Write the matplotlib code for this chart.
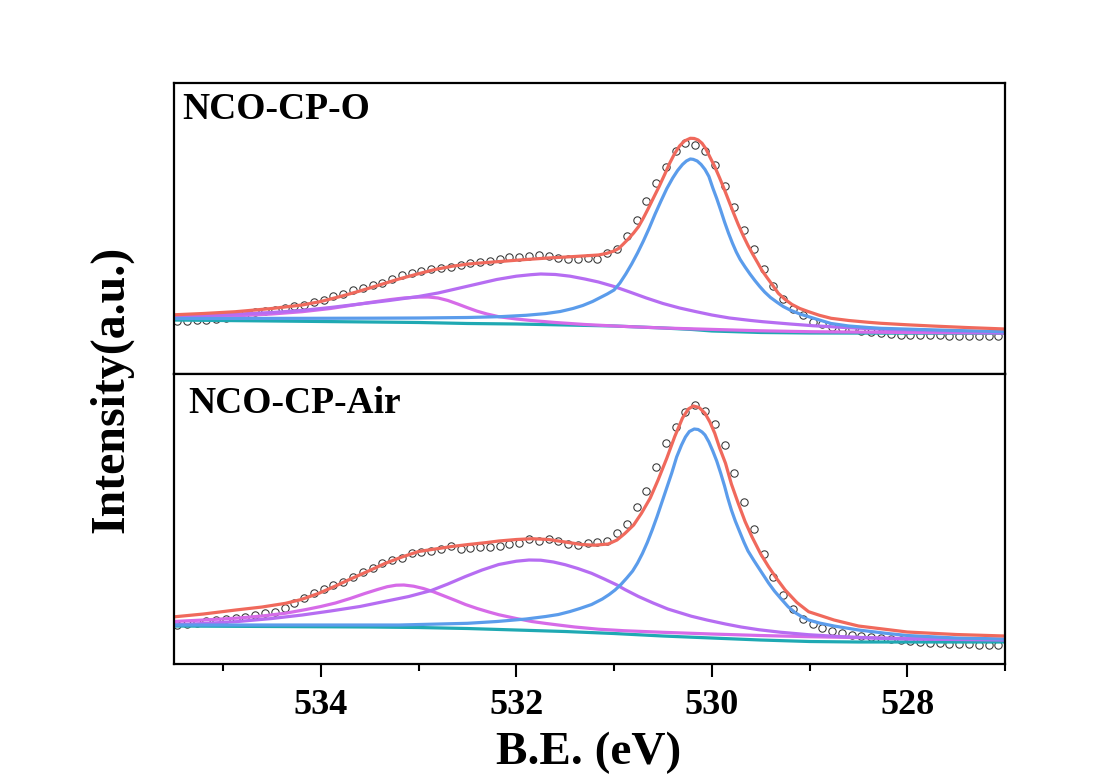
import numpy as np
import matplotlib.pyplot as plt
from matplotlib.ticker import MultipleLocator

plt.rcParams['font.family'] = ['Liberation Serif', 'DejaVu Serif']
plt.rcParams['font.weight'] = 'bold'

# ---------------- data (intensity in arbitrary units) ----------------
# measured points, 0.1 eV grid
be_grid = np.round(535.57 - 0.1 * np.arange(87), 2)

o_data = [52, 53, 53, 54, 54, 55, 56, 57, 60, 62,
          63, 64, 66, 67.5, 69, 71.5, 74, 77.5, 80, 83.5,
          86, 89, 91, 95, 98.5, 101, 103, 104.5, 105.5, 107,
          108.5, 110.7, 112.3, 113.3, 114.7, 116.7, 117.3, 118, 119, 118,
          115.7, 114.5, 114.5, 115.5, 114.7, 120.7, 124.7, 138.3, 154, 173,
          190.7, 207.3, 223.3, 230.7, 229, 223, 209, 188.3, 166.7, 144,
          124.7, 104.7, 88.3, 74.7, 64.7, 59, 52.3, 50, 46.7, 45.7,
          44.7, 43, 42, 41, 40, 39, 38.5, 38.5, 38.5, 38.5,
          38, 38, 38, 38, 38, 38, 38]

air_data = [38, 39, 40, 41, 43, 44.5, 45.5, 46, 47, 49,
            50.7, 52.3, 56, 61, 65.7, 70.7, 74.7, 79, 82.3, 87.3,
            92.3, 95.7, 100.7, 104, 106.5, 110.7, 112, 113, 115, 118,
            115, 115.7, 116.7, 117.3, 118, 120, 121.3, 124.7, 123.3, 124.7,
            123, 120.5, 119.5, 121, 122.3, 123.3, 131.3, 140, 156.7, 173.3,
            196.7, 220.7, 236.7, 252.3, 259, 253.3, 240, 219, 190.7, 162.3,
            134.7, 110, 86.7, 69, 54.7, 44.7, 40, 36, 33, 31,
            29.5, 28, 27, 26, 25, 24, 23, 22, 21.5, 21,
            20.5, 20, 20, 19.5, 19.5, 19, 19]

# ---- NCO-CP-O fitted curves ----
o_env_x = [535.55, 535.2, 534.87, 534.5, 534.19, 534.0, 533.8, 533.6, 533.4, 533.2,
           533.0, 532.83, 532.66, 532.49, 532.3, 532.1, 531.9, 531.67, 531.4, 531.16,
           531.08, 531.0, 530.95, 530.9, 530.85, 530.8, 530.75, 530.7, 530.65, 530.6,
           530.54, 530.48, 530.43, 530.38, 530.33, 530.28, 530.22, 530.18, 530.14, 530.10,
           530.06, 530.02, 529.97, 529.92, 529.87, 529.83, 529.78, 529.73, 529.68, 529.63,
           529.58, 529.53, 529.49, 529.44, 529.38, 529.32, 529.25, 529.18, 529.10, 529.01,
           528.9, 528.78, 528.6, 528.4, 528.27, 528.0, 527.75, 527.4, 527.0]
o_env_y = [59, 60.5, 62.3, 65.5, 69, 72.5, 77.5, 83, 89, 95,
           100.3, 104.5, 107.7, 110, 111.5, 113, 114.5, 116, 117.5, 119,
           120.5, 123, 125.7, 130.5, 135.5, 141, 147.3, 156, 165.5, 175.5,
           187.3, 200, 211, 220.5, 228, 233, 235.7, 235.5, 234, 230.7,
           225, 217, 207.3, 196, 184, 174, 161.5, 149.5, 138.5, 128.5,
           119.5, 111, 104, 97, 89, 80.7, 74.5, 69.5, 65.5, 62.3,
           58.7, 55.7, 53.5, 51.7, 50.7, 49.2, 48, 46.5, 45]

o_latt_x = [535.55, 534.5, 533.5, 533.0, 532.5, 532.17, 531.9, 531.7, 531.55, 531.42,
            531.32, 531.22, 531.14, 531.07, 531.0, 530.94, 530.88, 530.82, 530.76, 530.70,
            530.64, 530.58, 530.52, 530.46, 530.40, 530.35, 530.30, 530.26, 530.22, 530.19,
            530.15, 530.11, 530.07, 530.03, 529.99, 529.95, 529.91, 529.87, 529.83, 529.79,
            529.75, 529.71, 529.66, 529.61, 529.56, 529.51, 529.46, 529.40, 529.33, 529.27,
            529.20, 529.10, 529.01, 528.9, 528.78, 528.6, 528.4, 528.27, 527.9, 527.5,
            527.0]
o_latt_y = [55.5, 55.6, 55.8, 56.0, 56.5, 57.3, 58.7, 60.4, 62.5, 65.5,
            68.5, 72.5, 76.5, 80, 84, 91, 100, 110, 121, 133,
            146, 160, 173, 185.5, 196, 203.5, 209.5, 213, 215, 214.6,
            213, 209.5, 204.5, 197.5, 186, 175.5, 164, 152, 141, 131,
            122, 114.5, 107, 100, 93.5, 87.5, 82, 76.5, 71.5, 67.5,
            64, 60, 57.3, 54, 50.5, 48, 46.5, 45.7, 44.6, 43.5,
            42.3]

o_oh_x = [535.55, 535.0, 534.5, 534.2, 533.9, 533.6, 533.3, 533.0, 532.8, 532.6,
          532.4, 532.2, 532.0, 531.85, 531.75, 531.6, 531.45, 531.3, 531.16, 531.0,
          530.84, 530.67, 530.5, 530.33, 530.16, 530.0, 529.82, 529.6, 529.48, 529.2,
          528.97, 528.6, 528.27, 527.6, 527.0]
o_oh_y = [57.3, 59.3, 61.5, 63.5, 66.5, 70, 73.5, 77.5, 81, 85.5,
          90, 94.5, 97.8, 99.3, 100, 99.5, 97.8, 95, 92, 87.5,
          82, 76, 70.5, 66, 62.3, 59, 56, 53.5, 52.3, 50,
          48.3, 46.3, 44.8, 42.8, 41.3]

o_h2o_x = [535.55, 535.0, 534.5, 534.19, 533.9, 533.7, 533.5, 533.3, 533.15, 533.0,
           532.9, 532.8, 532.7, 532.6, 532.5, 532.4, 532.3, 532.18, 532.0, 531.85,
           531.6, 531.3, 531.0, 530.5, 530.0, 529.5, 529.0, 528.0, 527.0]
o_h2o_y = [56, 57.5, 60, 62.3, 65.5, 68.5, 71.5, 74.3, 76, 76.9,
           77, 76, 73.5, 70, 66.3, 62.8, 60, 57.3, 55, 53.5,
           51.5, 49.5, 48, 46, 44.6, 43.2, 42.3, 41.5, 41]

o_bg_x = [535.55, 534.5, 533.5, 533.0, 532.5, 532.0, 531.5, 531.0, 530.5, 530.2,
          530.0, 529.5, 529.0, 528.0, 527.0]
o_bg_y = [54, 53, 52, 51.5, 50.5, 50, 49, 48, 46, 44.5,
          43, 41.5, 41, 40.8, 40.7]

# ---- NCO-CP-Air fitted curves ----
air_env_x = [535.55, 535.2, 534.87, 534.6, 534.36, 534.2, 534.02, 533.85, 533.68, 533.5,
             533.34, 533.17, 533.0, 532.83, 532.66, 532.49, 532.3, 532.18, 532.0, 531.84,
             531.67, 531.5, 531.33, 531.2, 531.06, 530.97, 530.89, 530.80, 530.72, 530.63,
             530.55, 530.46, 530.38, 530.30, 530.24, 530.19, 530.13, 530.07, 530.02, 529.97,
             529.92, 529.86, 529.80, 529.73, 529.66, 529.59, 529.50, 529.42, 529.33, 529.25,
             529.13, 529.01, 528.75, 528.5, 528.0, 527.5, 527.0]
air_env_y = [46.7, 50, 54, 57, 60.7, 64.5, 70.7, 78, 85.7, 93.5,
             100.7, 107, 112.5, 115, 117.5, 119.5, 121.5, 123, 124.5, 125.3,
             124.5, 122, 119.5, 118.8, 120, 124, 130.5, 139, 150.7, 166,
             184, 206, 227.3, 246, 255, 258, 256.5, 250.7, 242, 230.7,
             216, 200.7, 180, 160.7, 142.5, 127.3, 110, 97.3, 84.5, 74,
             61.5, 52.3, 44, 38, 32, 29.5, 28]

air_latt_x = [535.55, 534.5, 533.2, 532.5, 532.2, 531.9, 531.7, 531.57, 531.45, 531.35,
              531.23, 531.12, 531.05, 530.99, 530.93, 530.87, 530.81, 530.76, 530.71, 530.66,
              530.61, 530.56, 530.51, 530.46, 530.41, 530.36, 530.31, 530.27, 530.23, 530.18,
              530.14, 530.10, 530.07, 530.03, 529.99, 529.95, 529.91, 529.87, 529.84, 529.80,
              529.76, 529.71, 529.67, 529.63, 529.57, 529.50, 529.42, 529.36, 529.29, 529.22,
              529.15, 529.08, 529.01, 528.9, 528.75, 528.5, 528.2, 528.0, 527.5, 527.0]
air_latt_y = [39, 39, 39, 40.7, 42.5, 45, 47.5, 49.5, 52.5, 55.5,
              59.5, 65, 69.5, 74, 79.5, 86, 93, 101, 110.5, 121.5,
              134, 147.5, 162, 176.5, 191, 207, 219, 227, 232.5, 235,
              234.5, 232, 229, 222, 213, 203, 191, 178, 167, 154,
              143, 131, 121.5, 113, 103.5, 93, 81, 73, 65, 57.3,
              51.5, 47.3, 44, 41, 38, 34, 30.5, 28.5, 26, 25]

air_oh_x = [535.55, 535.2, 534.87, 534.5, 534.19, 533.9, 533.6, 533.3, 533.1, 532.87,
            532.7, 532.52, 532.35, 532.18, 532.0, 531.87, 531.75, 531.62, 531.5, 531.37,
            531.23, 531.1, 530.97, 530.89, 530.75, 530.6, 530.45, 530.3, 530.21, 530.05,
            529.86, 529.7, 529.52, 529.3, 529.01, 528.7, 528.3, 528.0, 527.5, 527.0]
air_oh_y = [39, 40.5, 42.3, 45.5, 49, 53, 57.5, 63.5, 67.5, 73.5,
            80, 87.5, 94, 99.5, 102.8, 104, 103.8, 102, 99.3, 95.5,
            90.7, 85, 79, 74.5, 67.5, 61, 55, 50.5, 47.8, 44,
            40, 37, 34.3, 31.8, 29.3, 27.5, 25.8, 25, 24.5, 24]

air_h2o_x = [535.55, 535.2, 534.87, 534.6, 534.36, 534.15, 534.0, 533.85, 533.7, 533.55,
             533.42, 533.32, 533.23, 533.15, 533.05, 532.95, 532.85, 532.75, 532.62, 532.52,
             532.4, 532.28, 532.18, 532.0, 531.84, 531.7, 531.57, 531.4, 531.16, 530.9,
             530.5, 530.0, 529.5, 529.0, 528.0, 527.0]
air_h2o_y = [42.3, 44, 45.8, 48, 50.8, 54.5, 57.5, 61, 65.5, 70.5,
             74.5, 77.3, 78.8, 79, 77.8, 75.5, 72.3, 68.5, 63.5, 59.5,
             55.5, 52, 49.3, 45.5, 42.5, 40.6, 39, 37, 34.8, 33.3,
             31.7, 30, 28.5, 27.3, 25.5, 24.5]

air_bg_x = [535.55, 534.5, 533.5, 533.0, 532.5, 532.0, 531.5, 531.0, 530.5, 530.0,
            529.5, 529.0, 528.5, 527.0]
air_bg_y = [38, 37.5, 37, 36.5, 35.5, 34, 32.5, 30.5, 28, 26,
            24, 22.5, 22, 22]

c_env = '#F0695C'
c_latt = '#5B9CEB'
c_oh = '#B66DF2'
c_h2o = '#D66BE8'
c_bg = '#1FA9B3'
lw = 2.3

fig = plt.figure(figsize=(11.02, 7.74), dpi=100)
ax1 = fig.add_axes([0.158, 0.5168, 0.7541, 0.376])
ax2 = fig.add_axes([0.158, 0.1421, 0.7541, 0.3747])

panels = [
    (ax1, o_data, (o_bg_x, o_bg_y), (o_h2o_x, o_h2o_y), (o_oh_x, o_oh_y),
     (o_latt_x, o_latt_y), (o_env_x, o_env_y), 'NCO-CP-O', 0.0096, 0.875, 291),
    (ax2, air_data, (air_bg_x, air_bg_y), (air_h2o_x, air_h2o_y), (air_oh_x, air_oh_y),
     (air_latt_x, air_latt_y), (air_env_x, air_env_y), 'NCO-CP-Air', 0.017, 0.864, 290),
]

for ax, dat, bg, h2o, oh, latt, env, name, tx, ty, ytop in panels:
    ax.plot(be_grid, dat, 'o', ms=5.3, mfc='none', mec='#333333', mew=0.75)
    ax.plot(bg[0], bg[1], color=c_bg, lw=lw, solid_joinstyle='round')
    ax.plot(h2o[0], h2o[1], color=c_h2o, lw=lw, solid_joinstyle='round')
    ax.plot(oh[0], oh[1], color=c_oh, lw=lw, solid_joinstyle='round')
    ax.plot(latt[0], latt[1], color=c_latt, lw=lw, solid_joinstyle='round')
    ax.plot(env[0], env[1], color=c_env, lw=lw, solid_joinstyle='round')
    ax.set_xlim(535.5, 527)
    ax.set_ylim(0, ytop)
    ax.set_yticks([])
    ax.text(tx, ty, name, transform=ax.transAxes, fontsize=27,
            fontweight='bold', ha='left', va='baseline')
    for s in ax.spines.values():
        s.set_linewidth(1.6)

ax1.set_xticks([])
ax1.tick_params(axis='x', which='both', bottom=False, labelbottom=False)

ax2.xaxis.set_major_locator(MultipleLocator(2))
ax2.xaxis.set_minor_locator(MultipleLocator(1))
ax2.tick_params(axis='x', which='major', direction='out', length=9, width=1.5,
                labelsize=26, pad=9)
ax2.tick_params(axis='x', which='minor', direction='out', length=5, width=1.5)
for lab in ax2.get_xticklabels():
    lab.set_fontweight('bold')

fig.text(0.5345, 0.0125, 'B.E. (eV)', fontsize=34, fontweight='bold',
         ha='center', va='baseline')
fig.text(0.1007, 0.497, 'Intensity(a.u.)', fontsize=34.5, fontweight='bold',
         ha='center', va='center', rotation=90)

fig.savefig('out.png', dpi=100)
